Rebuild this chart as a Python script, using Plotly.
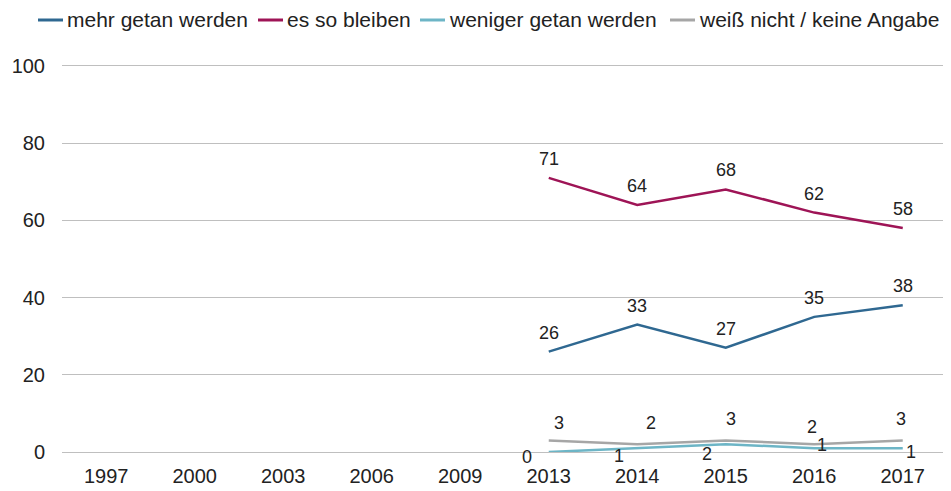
import plotly.graph_objects as go

# categories on the x axis
years = ["1997", "2000", "2003", "2006", "2009", "2013", "2014", "2015", "2016", "2017"]
data_years = ["2013", "2014", "2015", "2016", "2017"]

# series values (percent)
mehr = [26, 33, 27, 35, 38]
so_bleiben = [71, 64, 68, 62, 58]
weniger = [0, 1, 2, 1, 1]
weiss_nicht = [3, 2, 3, 2, 3]

names = ["mehr getan werden", "es so bleiben", "weniger getan werden", "weiß nicht / keine Angabe"]
colors = ["#2F6891", "#9E1456", "#6DB5C6", "#A6A6A6"]
values = [mehr, so_bleiben, weniger, weiss_nicht]

# label offsets in px (x, y) for each point, per series
offsets = [
    [(0, 19)] * 5,
    [(0, 19)] * 5,
    [(-22, -5), (-18, -8), (-19, -10), (8, 3), (8, -4)],
    [(10, 17), (14, 21), (5, 21), (-2, 17), (-2, 21)],
]

# page body has an 8px margin, so the figure is a little smaller
W, H = 943, 483
L, R, T, B = 54, 4, 54, 39
ph = H - T - B
pw = W - L - R

fig = go.Figure()
for name, vals, color, offs in zip(names, values, colors, offsets):
    fig.add_trace(go.Scatter(
        x=data_years, y=vals, name=name, mode="lines",
        line=dict(color=color, width=2.5), showlegend=False, cliponaxis=False,
    ))
    for xv, yv, (dx, dy) in zip(data_years, vals, offs):
        fig.add_annotation(x=years.index(xv), y=yv, xref="x", yref="y",
                           text=str(yv), showarrow=False,
                           xshift=dx, yshift=dy, xanchor="center", yanchor="middle",
                           font=dict(size=18, color="#222222"))

# legend drawn by hand to match the compact look of the original
leg_text_x = [57, 277, 439, 689]
leg_y = (H - B - 12) / ph
for name, color, tx in zip(names, colors, leg_text_x):
    fig.add_shape(type="line", xref="paper", yref="paper",
                  x0=(tx - 27 - L) / pw, x1=(tx - 2 - L) / pw,
                  y0=leg_y, y1=leg_y, line=dict(color=color, width=3))
    fig.add_annotation(xref="paper", yref="paper", x=(tx - L) / pw, y=leg_y,
                       text=name, showarrow=False, xanchor="left", yanchor="middle",
                       font=dict(size=21, color="#222222"))

fig.update_layout(
    width=W, height=H,
    margin=dict(l=L, r=R, t=T, b=B, autoexpand=False),
    paper_bgcolor="white", plot_bgcolor="white",
    font=dict(family="Liberation Sans, Arial, sans-serif", size=20, color="#222222"),
    showlegend=False,
    xaxis=dict(type="category", categoryorder="array", categoryarray=years,
               showgrid=False, showline=True, linecolor="#BFBFBF", linewidth=1,
               ticks="", tickfont=dict(size=20),
               range=[-0.5, 9.5], ticklabelstandoff=6),
    yaxis=dict(range=[0, 101], tickvals=[0, 20, 40, 60, 80, 100],
               showgrid=True, gridcolor="#BFBFBF", gridwidth=1,
               zeroline=False, showline=False, ticks="",
               tickfont=dict(size=20), ticklabelstandoff=16),
)

fig.write_html("out.html")
